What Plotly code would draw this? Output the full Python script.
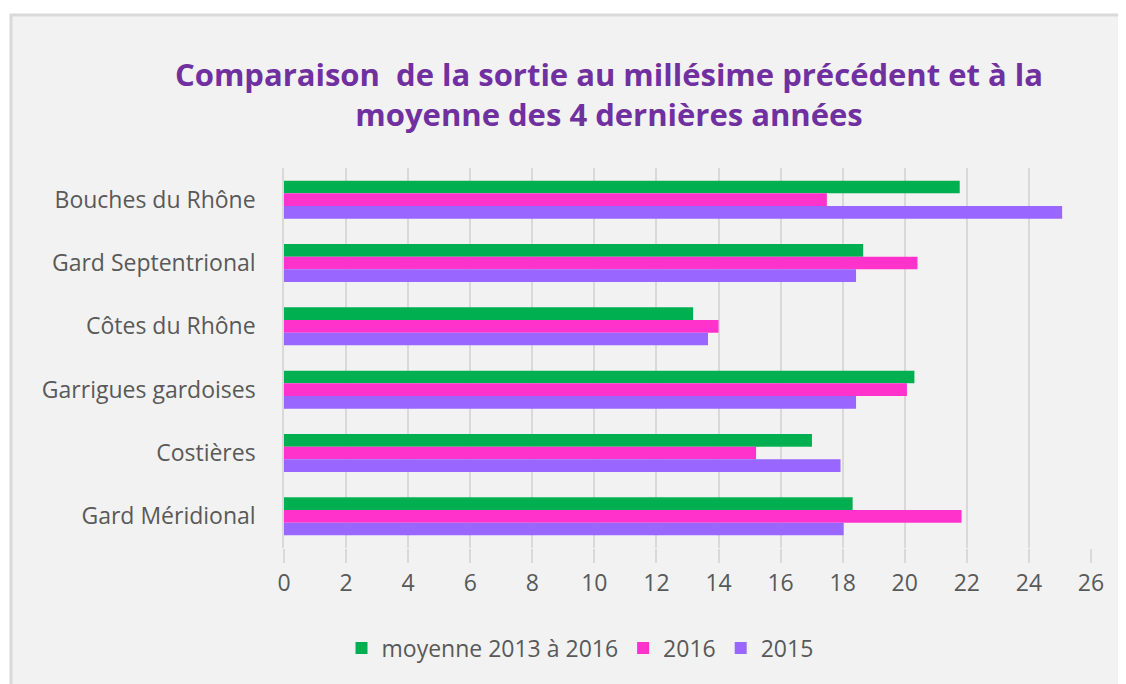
import plotly.graph_objects as go

categories = ["Bouches du Rhône", "Gard Septentrional", "Côtes du Rhône",
              "Garrigues gardoises", "Costières", "Gard Méridional"]
moyenne = [21.77, 18.66, 13.18, 20.31, 17.01, 18.32]
v2016 = [17.49, 20.41, 14.0, 20.07, 15.21, 21.83]
v2015 = [25.07, 18.43, 13.66, 18.43, 17.93, 18.03]
tick_vals = list(range(0, 27, 2))

series = [("moyenne 2013 à 2016", moyenne, "#00b050"),
          ("2016", v2016, "#ff33cc"),
          ("2015", v2015, "#9966ff")]

W, H = 1126, 684
OFF = 8  # page body margin offset
L, R, T, B = 284 - OFF, 1091 - OFF, 168 - OFF, 548 - OFF

fig = go.Figure()
for name, vals, col in series:
    fig.add_trace(go.Bar(y=categories, x=vals, name=name, orientation="h",
                         marker=dict(color=col, line=dict(width=0))))

def px_x(p):
    return (p - OFF - L) / (R - L)

def px_y(p):
    return (B - (p - OFF)) / (B - T)

fig.add_shape(type="rect", xref="paper", yref="paper",
              x0=px_x(11), x1=px_x(1160), y0=px_y(720), y1=px_y(15),
              fillcolor="#f2f2f2", line=dict(color="#d9d9d9", width=3), layer="below")

fig.update_layout(
    width=W, height=H,
    margin=dict(l=L, r=W - R, t=T, b=H - B, pad=0),
    paper_bgcolor="white", plot_bgcolor="rgba(0,0,0,0)",
    barmode="group", bargap=0.4, bargroupgap=0,
    font=dict(family="'Open Sans', sans-serif", color="#595959"),
    title=dict(text="Comparaison  de la sortie au millésime précédent et à la<br>moyenne des 4 dernières années",
               x=px_x(609), xref="paper", xanchor="center",
               y=1 - (86 - OFF) / H, yanchor="top",
               font=dict(family="'Open Sans', sans-serif", size=31, color="#7030a0", weight="bold")),
    xaxis=dict(range=[0, 26], tickvals=tick_vals, showgrid=True, gridcolor="#d9d9d9",
               gridwidth=1.5, zeroline=False, ticks="outside", ticklen=14,
               tickcolor="#d9d9d9", tickwidth=1.5, tickfont=dict(size=23, color="#595959"),
               showline=False, fixedrange=True),
    yaxis=dict(autorange="reversed", showline=True, linecolor="#d9d9d9", linewidth=1.5,
               ticks="", tickfont=dict(size=23, color="#595959"), ticklabelstandoff=22,
               showgrid=False),
    legend=dict(orientation="h", x=px_x(580), xanchor="center", y=px_y(648), yanchor="middle",
                font=dict(size=23, color="#595959"), bgcolor="rgba(0,0,0,0)",
                itemwidth=30),
    showlegend=True,
)

fig.write_html("out.html")
